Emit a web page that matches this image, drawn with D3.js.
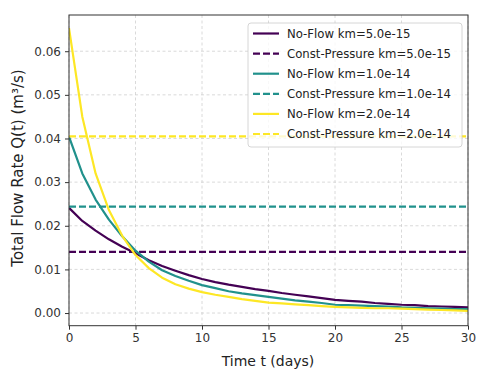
<!DOCTYPE html>
<html><head><meta charset="utf-8">
<script src="https://cdn.jsdelivr.net/npm/d3@7"></script>
<style>html,body{margin:0;padding:0;background:#fff;}svg{display:block;font-family:"DejaVu Sans",sans-serif;}</style>
</head><body><svg id="c" width="480" height="375"></svg>
<script>
const days = d3.range(0, 31);
const noFlow5e15 = [0.0241,0.0211,0.0189,0.0169,0.0152,0.0137,0.0121,0.0108,0.0097,0.0087,0.0078,0.0071,0.0065,0.0060,0.0055,0.0051,0.0046,0.0042,0.0038,0.0034,0.0030,0.0028,0.0026,0.0023,0.0021,0.0019,0.0018,0.0016,0.0015,0.0014,0.0013];
const noFlow1e14 = [0.0404,0.0320,0.0260,0.0214,0.0176,0.0143,0.0118,0.0098,0.0085,0.0074,0.0064,0.0057,0.0050,0.0045,0.0041,0.0037,0.0033,0.0029,0.0026,0.0023,0.0019,0.0018,0.0017,0.0016,0.0015,0.0013,0.0012,0.0011,0.0010,0.0009,0.0009];
const noFlow2e14 = [0.0653,0.0450,0.0320,0.0236,0.0177,0.0133,0.0103,0.0081,0.0066,0.0056,0.0048,0.0042,0.0037,0.0032,0.0028,0.0024,0.0022,0.0020,0.0018,0.0016,0.0014,0.0013,0.0012,0.0011,0.0011,0.0010,0.0009,0.0008,0.0007,0.0006,0.0005];
const constPressure = [0.0140, 0.0244, 0.0405];
const kmLabels = ["5.0e-15", "1.0e-14", "2.0e-14"];
const colors = ["#440154", "#21918c", "#fde725"];
const xTicks = [0, 5, 10, 15, 20, 25, 30];
const yTicks = [0.00, 0.01, 0.02, 0.03, 0.04, 0.05, 0.06];

const svg = d3.select("#c");
const L = 69, R = 468, T = 15, B = 325.7;
const x = d3.scaleLinear().domain([0, 30]).range([L, R]);
const y = d3.scaleLinear().domain([-0.0029, 0.0683]).range([B, T]);

// grid
const grid = svg.append("g");
grid.selectAll(".gx").data(xTicks).enter().append("line")
  .attr("x1", d => x(d)).attr("x2", d => x(d)).attr("y1", T).attr("y2", B)
  .attr("stroke", "#d0d0d0").attr("stroke-width", 0.8).attr("stroke-dasharray", "3,2.5");
grid.selectAll(".gy").data(yTicks).enter().append("line")
  .attr("x1", L).attr("x2", R).attr("y1", d => y(d)).attr("y2", d => y(d))
  .attr("stroke", "#d0d0d0").attr("stroke-width", 0.8).attr("stroke-dasharray", "3,2.5");

const series = [noFlow5e15, noFlow1e14, noFlow2e14];
const line = d3.line().x((d, i) => x(days[i])).y(d => y(d));
const clip = svg.append("clipPath").attr("id", "clp").append("rect")
  .attr("x", L).attr("y", T).attr("width", R - L).attr("height", B - T);
const plot = svg.append("g").attr("clip-path", "url(#clp)");
series.forEach((s, k) => {
  plot.append("path").datum(s).attr("d", line).attr("fill", "none")
    .attr("stroke", colors[k]).attr("stroke-width", 2.2).attr("stroke-linejoin", "round");
  plot.append("line").attr("x1", x(0)).attr("x2", x(30))
    .attr("y1", y(constPressure[k])).attr("y2", y(constPressure[k]))
    .attr("stroke", colors[k]).attr("stroke-width", 2.2).attr("stroke-dasharray", "7,3");
});

// axes
const xAxis = svg.append("g").attr("transform", `translate(0,${B})`)
  .call(d3.axisBottom(x).tickValues(xTicks).tickFormat(d3.format("d")).tickSizeOuter(0).tickSize(4).tickPadding(4));
const yAxis = svg.append("g").attr("transform", `translate(${L},0)`)
  .call(d3.axisLeft(y).tickValues(yTicks).tickFormat(d3.format(".2f")).tickSizeOuter(0).tickSize(4).tickPadding(4));
[xAxis, yAxis].forEach(a => {
  a.select(".domain").remove();
  a.selectAll("line").attr("stroke", "#333");
  a.selectAll("text").attr("fill", "#333").style("font-size", "12px").style("font-family", "DejaVu Sans");
});
svg.append("rect").attr("x", L).attr("y", T).attr("width", R - L).attr("height", B - T)
  .attr("fill", "none").attr("stroke", "#333").attr("stroke-width", 1);

svg.append("text").attr("x", 268).attr("y", 366).attr("text-anchor", "middle")
  .style("font-size", "14px").attr("fill", "#222").text("Time t (days)");
svg.append("text").attr("transform", "translate(23,168) rotate(-90)").attr("text-anchor", "middle")
  .style("font-size", "15px").attr("fill", "#222").text("Total Flow Rate Q(t) (m³/s)");

// legend
const lg = svg.append("g");
lg.append("rect").attr("x", 248).attr("y", 23).attr("width", 214).attr("height", 124)
  .attr("rx", 3).attr("fill", "#fff").attr("fill-opacity", 0.8).attr("stroke", "#ccc").attr("stroke-width", 0.8);
const entries = [];
kmLabels.forEach((km, k) => {
  entries.push({label: "No-Flow km=" + km, color: colors[k], dash: null});
  entries.push({label: "Const-Pressure km=" + km, color: colors[k], dash: "7,3"});
});
entries.forEach((e, i) => {
  const yy = 33.5 + i * 20.1;
  lg.append("line").attr("x1", 253).attr("x2", 279).attr("y1", yy).attr("y2", yy)
    .attr("stroke", e.color).attr("stroke-width", 2.2).attr("stroke-dasharray", e.dash);
  lg.append("text").attr("x", 287).attr("y", yy + 4.3).style("font-size", "11.7px")
    .attr("fill", "#222").text(e.label);
});
</script></body></html>
